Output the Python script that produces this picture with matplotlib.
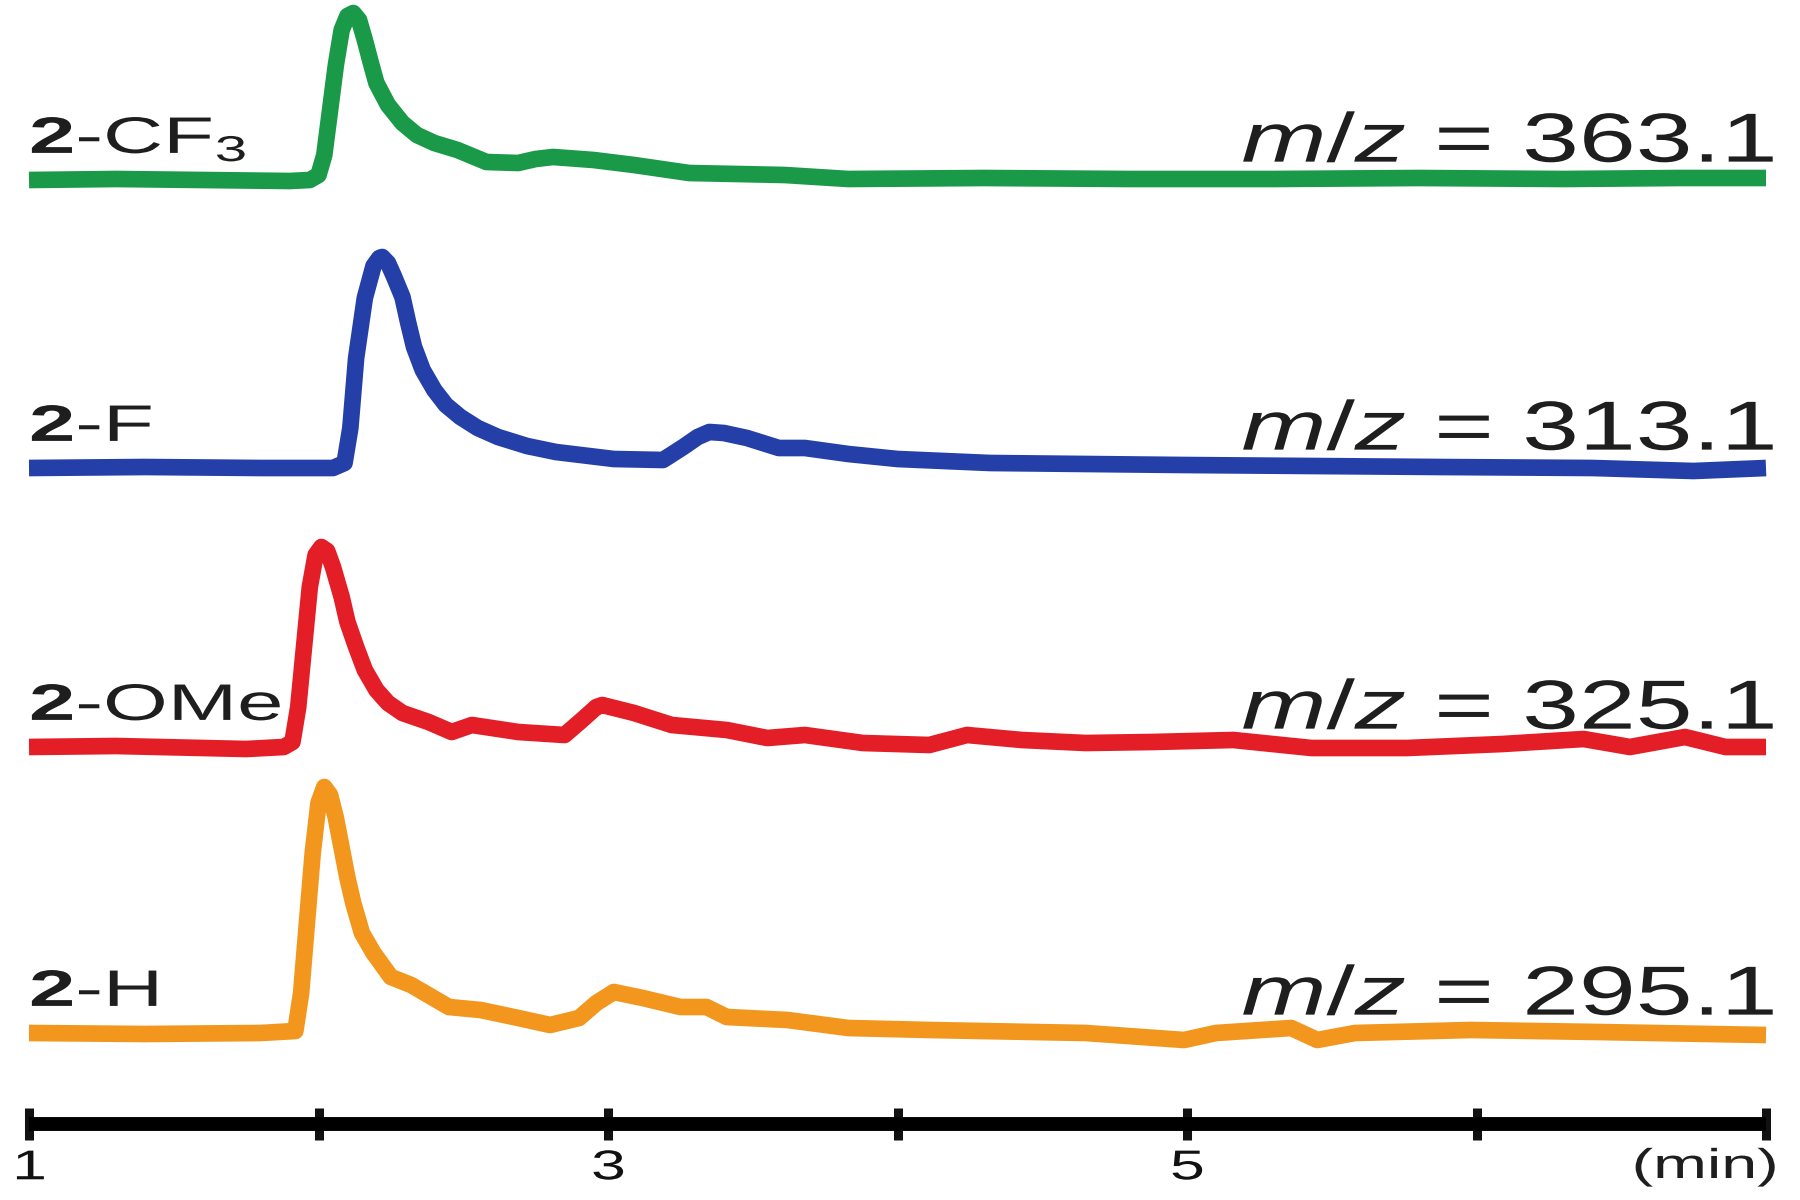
import numpy as np
import matplotlib
matplotlib.use('Agg')
import matplotlib.pyplot as plt
from matplotlib.patheffects import AbstractPathEffect
from matplotlib.transforms import Affine2D

plt.rcParams['font.family'] = ['Liberation Sans', 'DejaVu Sans']
plt.rcParams['mathtext.fontset'] = 'custom'
plt.rcParams['mathtext.rm'] = 'Liberation Sans'
plt.rcParams['mathtext.it'] = 'Liberation Sans:italic'
plt.rcParams['mathtext.bf'] = 'Liberation Sans:bold'

# ---------------- data (retention time in min, intensity in arbitrary units) ----
compound_labels = [r'$\mathbf{2}$-CF$_\mathrm{3}$', r'$\mathbf{2}$-F',
                   r'$\mathbf{2}$-OMe', r'$\mathbf{2}$-H']
mz_values = [363.1, 313.1, 325.1, 295.1]
colors = ['#1a9a48', '#2440a8', '#e41e26', '#f2961e']

t_cf3 = [1.00, 1.30, 1.60, 1.90, 1.97, 2.00, 2.02, 2.04, 2.06, 2.08, 2.10, 2.12,
         2.14, 2.16, 2.18, 2.20, 2.24, 2.29, 2.34, 2.40, 2.48, 2.58, 2.69, 2.75,
         2.81, 2.95, 3.09, 3.28, 3.61, 3.83, 4.30, 4.80, 5.30, 5.80, 6.30, 6.70, 7.00]
i_cf3 = [0, 1, 0, -1, 0, 5, 25, 70, 115, 150, 164, 167,
         160, 140, 118, 97, 75, 57, 45, 37, 30, 18, 17, 21,
         23, 20, 15, 7, 5, 1, 2, 1, 1, 2, 1, 2, 2]

t_f = [1.00, 1.40, 1.80, 2.05, 2.09, 2.11, 2.13, 2.16, 2.19, 2.21, 2.22, 2.24,
       2.26, 2.29, 2.31, 2.33, 2.36, 2.40, 2.44, 2.49, 2.55, 2.62, 2.72, 2.82,
       3.02, 3.19, 3.26, 3.31, 3.35, 3.40, 3.48, 3.59, 3.68, 3.83,
       4.00, 4.32, 4.99, 5.87, 6.40, 6.75, 7.00]
i_f = [0, 1, 0, 0, 5, 40, 110, 170, 202, 210, 211, 205,
       192, 171, 145, 121, 98, 78, 63, 51, 40, 31, 22, 16,
       9, 8, 21, 31, 36, 35, 30, 20, 20, 14,
       9, 5, 3, 1, 0, -3, 0]

t_ome = [1.00, 1.30, 1.60, 1.75, 1.88, 1.91, 1.93, 1.95, 1.97, 1.99, 2.01, 2.03,
         2.05, 2.08, 2.10, 2.13, 2.16, 2.20, 2.24, 2.29, 2.38, 2.46, 2.53, 2.69,
         2.85, 2.91, 2.96, 2.98, 3.09, 3.22, 3.41,
         3.55, 3.68, 3.88, 4.11, 4.24, 4.43, 4.65, 4.88, 5.16, 5.43, 5.76, 6.09,
         6.37, 6.53, 6.72, 6.86, 7.00]
i_ome = [0, 1, -1, -2, 0, 5, 40, 100, 160, 192, 200, 196,
         180, 150, 125, 100, 77, 57, 44, 34, 25, 15, 22, 15,
         12, 27, 40, 42, 34, 22, 17,
         9, 12, 4, 2, 12, 7, 4, 5, 7, -1, -1, 3,
         8, 0, 10, 0, 0]

t_h = [1.00, 1.40, 1.80, 1.92, 1.94, 1.96, 1.98, 2.00, 2.02, 2.04, 2.06, 2.08,
       2.10, 2.12, 2.15, 2.19, 2.25, 2.32, 2.45, 2.56, 2.69, 2.80, 2.90, 2.96,
       3.02, 3.12, 3.25, 3.34, 3.41, 3.62,
       3.83, 4.11, 4.65, 4.99, 5.10, 5.36, 5.45, 5.58, 5.98, 6.42, 7.00]
i_h = [0, -1, 0, 2, 40, 110, 180, 230, 246, 238, 215, 185,
       155, 130, 100, 80, 56, 48, 26, 23, 15, 8, 15, 30,
       41, 35, 26, 26, 16, 13,
       5, 3, 0, -7, 0, 5, -7, 0, 3, 1, -2]

x_ticks = [1, 2, 3, 4, 5, 6, 7]
x_ticklabels = ['1', '', '3', '', '5', '', '']
unit_label = '(min)'

times = [t_cf3, t_f, t_ome, t_h]
intens = [i_cf3, i_f, i_ome, i_h]

# ---------------- layout ----------------
baselines = [180, 468, 747, 1033]      # vertical placement of each trace
axis_y = 1124


class HStretch(AbstractPathEffect):
    """Draw text stretched horizontally (the reference uses wide lettering)."""
    def __init__(self, sx, anchor='left'):
        super().__init__()
        self.sx = sx
        self.anchor = anchor

    def draw_path(self, renderer, gc, tpath, affine, rgbFace=None):
        v = tpath.vertices
        if len(v):
            xmin, xmax = float(v[:, 0].min()), float(v[:, 0].max())
        else:
            xmin = xmax = 0.0
        x0 = {'left': 0.0, 'right': xmax, 'center': 0.5 * (xmin + xmax)}[self.anchor]
        pre = Affine2D().translate(-x0, 0).scale(self.sx, 1.0).translate(x0, 0)
        renderer.draw_path(gc, tpath, pre + affine, rgbFace)


fig = plt.figure(figsize=(18, 12), dpi=100)
ax = fig.add_axes([0, 0, 1, 1])
px_per_min = (1766 - 29) / 6.0
ax.set_xlim(1 - 29 / px_per_min, 7 + 34 / px_per_min)
ax.set_ylim(1200, 0)

for t, inten, base, col, lab, mz in zip(times, intens, baselines, colors,
                                        compound_labels, mz_values):
    y = base - np.asarray(inten, dtype=float)
    ax.plot(t, y, color=col, lw=12, solid_joinstyle='round',
            solid_capstyle='butt', zorder=3)
    ax.text(1.0, base - 27, lab, fontsize=37, color='#1e1e1e', ha='left',
            va='baseline', path_effects=[HStretch(1.62, 'left')], zorder=4)
    ax.text(7.031, base - 18, r'$m/z$ = ' + f'{mz:.1f}', fontsize=50,
            color='#1e1e1e', ha='right', va='baseline',
            path_effects=[HStretch(1.47, 'right')], zorder=4)

for s in ['left', 'right', 'top']:
    ax.spines[s].set_visible(False)
sp = ax.spines['bottom']
sp.set_position(('data', axis_y))
sp.set_bounds(1, 7)
sp.set_linewidth(10)
sp.set_capstyle('butt')
ax.set_yticks([])
ax.set_xticks(x_ticks)
ax.set_xticklabels(x_ticklabels)
ax.tick_params(axis='x', direction='inout', length=23, width=6.5, pad=6,
               labelsize=30, colors='#111111')
for tl in ax.get_xticklabels():
    tl.set_path_effects([HStretch(1.5, 'center')])
ax.text(7.038, 1178, unit_label, fontsize=30, color='#1e1e1e', ha='right',
        va='baseline', path_effects=[HStretch(1.55, 'right')])
ax.set_facecolor('white')
fig.patch.set_facecolor('white')

fig.savefig('out.png', dpi=100, facecolor='white')
